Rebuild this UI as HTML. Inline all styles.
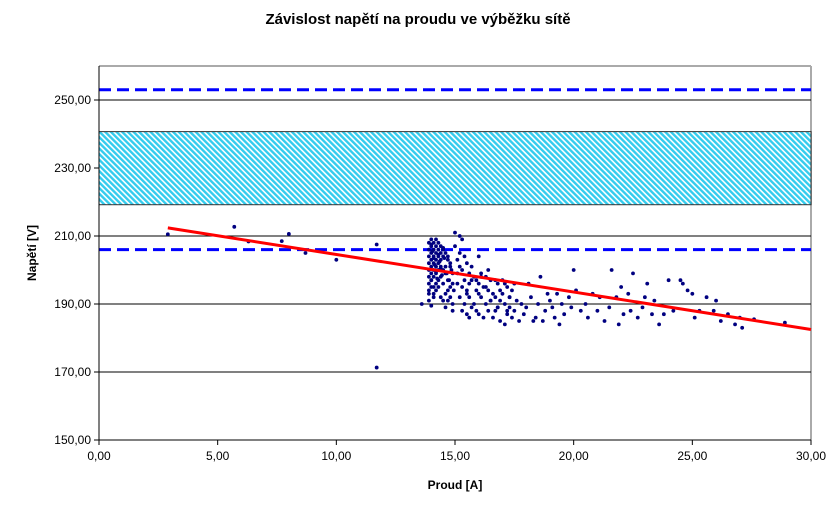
<!DOCTYPE html>
<html><head><meta charset="utf-8"><style>
body{margin:0;background:#fff;}
svg{display:block;font-family:"Liberation Sans",Arial,sans-serif;}
</style></head><body>
<svg id="chart" width="838" height="507">
<defs>
<pattern id="hatch" width="4" height="4" patternUnits="userSpaceOnUse" patternTransform="rotate(-45)">
<rect width="4" height="4" fill="#fff"/><rect width="2.4" height="4" fill="#33ccee"/>
</pattern>
</defs>
<text x="418" y="24" text-anchor="middle" font-size="15" font-weight="bold">Závislost napětí na proudu ve výběžku sítě</text>
<g id="grid"></g>
<g id="axes"></g>
<g id="pts"></g>
<text x="455" y="489" text-anchor="middle" font-size="12" font-weight="bold">Proud [A]</text>
<text transform="translate(36,253) rotate(-90)" text-anchor="middle" font-size="12" font-weight="bold">Napětí [V]</text>
</svg>
<script>
const xTicks=[0,5,10,15,20,25,30];
const xTickLabels=["0,00","5,00","10,00","15,00","20,00","25,00","30,00"];
const yTicks=[150,170,190,210,230,250];
const yTickLabels=["150,00","170,00","190,00","210,00","230,00","250,00"];
const bandLow=219.2, bandHigh=240.7;
const limitHigh=253, limitLow=206;
const trendX=[2.9,30], trendY=[212.4,182.5];
const curX=[2.9,5.7,6.3,7.7,8.0,8.7,10.0,11.7,11.7,13.6,
13.9,13.9,13.9,13.9,13.9,13.9,13.9,13.9,13.9,13.9,14.0,14.0,14.0,14.0,14.0,14.0,14.0,14.0,14.0,14.1,14.1,14.1,14.1,14.1,14.1,14.1,14.1,14.2,14.2,14.2,14.2,14.2,14.2,14.2,14.3,14.3,14.3,14.3,14.3,14.3,14.4,14.4,14.4,14.4,14.4,14.5,14.5,14.5,14.5,14.6,14.6,14.6,14.7,14.7,14.7,14.8,14.8,14.9,14.9,
14.0,14.05,14.1,14.15,14.2,14.25,14.3,14.35,14.4,14.45,14.5,14.55,14.6,14.65,14.7,14.75,14.8,14.85,14.9,14.95,14.0,14.1,14.2,14.3,14.4,14.5,14.6,14.7,14.8,14.9,
15.0,15.0,15.1,15.1,15.2,15.2,15.2,15.3,15.3,15.3,15.4,15.4,15.4,15.5,15.5,15.5,15.6,15.6,15.6,15.7,15.7,15.8,15.8,15.9,15.9,16.0,16.0,16.0,16.1,16.1,16.2,16.2,16.3,16.3,16.4,16.4,16.5,16.5,16.6,16.6,16.7,16.7,16.8,16.8,16.9,16.9,17.0,17.0,17.1,17.1,17.2,17.2,17.3,17.3,17.4,17.4,17.5,17.5,17.6,17.7,17.8,17.9,
15.1,15.3,15.5,15.7,15.9,16.1,16.3,16.5,16.7,16.9,17.1,17.3,15.2,15.6,16.0,16.4,16.8,17.2,
18.0,18.1,18.2,18.3,18.4,18.5,18.6,18.7,18.8,18.9,19.0,19.1,19.2,19.3,19.4,19.5,19.6,19.8,19.9,20.0,20.1,20.3,20.5,20.6,20.8,21.0,21.1,21.3,21.5,21.6,21.8,21.9,22.0,22.1,22.3,22.4,22.5,22.7,22.9,23.0,23.1,23.3,23.4,23.6,23.8,24.0,24.2,24.5,24.6,24.8,25.0,25.1,25.3,25.6,25.9,26.0,26.2,26.5,26.8,27.0,27.1,27.6,28.9],
volt=[210.5,212.7,208.4,208.5,210.6,205,203,207.5,171.3,190,
208,206,204,202,200,198,196,194,193,191,209,207,205,203,201,199,197,195,189.5,208,206,204,202,200,198,195,192,209,207,205,203,201,199,196,208,206,204,202,200,197,207,205,203,201,198,206,204,200,196,205,199,193,203,197,191,201,195,199,188,
207.5,205.5,203.5,201.5,199.5,197.5,204.5,202.5,200.5,198.5,206.5,203.5,201,199,204,197,202,200,196,194,197,193,194,195,192,191,189,194,192,190,
211,207,203,196,210,205,192,209,200,188,204,197,190,202,194,187,199,192,186,201,189,198,190,197,188,204,196,187,199,192,195,186,198,190,194,188,197,191,193,186,192,188,196,189,191,185,197,193,190,184,195,187,192,189,194,186,196,188,191,185,190,187,
199,195,193,197,194,198,195,191,197,194,196,192,201,196,193,200,189,188,
189,196,192,185,186,190,198,185,188,193,191,189,186,193,184,190,187,192,189,200,194,188,190,186,193,188,192,185,189,200,192,184,195,187,193,188,199,186,189,192,196,187,191,184,187,197,188,197,196,194,193,186,188,192,188,191,185,187,184,186,183,185.5,184.5];
const X0=99,X1=811,Y0=440,Y1=66,XMIN=0,XMAX=30,YMIN=150,YMAX=260;
const sx=v=>X0+(v-XMIN)/(XMAX-XMIN)*(X1-X0);
const sy=v=>Y0-(v-YMIN)/(YMAX-YMIN)*(Y0-Y1);
const NS="http://www.w3.org/2000/svg";
function mk(parent,tag,attrs){const e=document.createElementNS(NS,tag);for(const k in attrs)e.setAttribute(k,attrs[k]);document.getElementById(parent).appendChild(e);return e;}
let e;
e=mk('grid','line',{x1:X0,x2:X1,y1:Y1,y2:Y1,stroke:'#aaa','stroke-width':2});


e=mk('grid','line',{x1:X1,x2:X1,y1:Y1,y2:Y0,stroke:'#aaa','stroke-width':2});


yTicks.forEach((t,i)=>{
 if(t>YMIN){e=mk('grid','line',{x1:X0,x2:X1,y1:sy(t),y2:sy(t),stroke:'#000','stroke-width':1});
 
 }
 e=mk('axes','line',{x1:X0-5,x2:X0,y1:sy(t),y2:sy(t),stroke:'#000'});
 
 
 e=mk('axes','text',{x:X0-8,y:sy(t)+4,'text-anchor':'end','font-size':12});
 e.textContent=yTickLabels[i];
 
 
});
e=mk('grid','rect',{x:X0,y:sy(bandHigh),width:X1-X0,height:sy(bandLow)-sy(bandHigh),fill:'url(#hatch)',stroke:'#333','stroke-width':1});


[limitHigh,limitLow].forEach(v=>{
 e=mk('grid','line',{x1:X0,x2:X1,y1:sy(v),y2:sy(v),stroke:'#0000ff','stroke-width':3,'stroke-dasharray':'12,6'});
 
 
});
e=mk('axes','line',{x1:X0,x2:X0,y1:Y1,y2:Y0,stroke:'#000'});


e=mk('axes','line',{x1:X0,x2:X1,y1:Y0,y2:Y0,stroke:'#000'});


xTicks.forEach((t,i)=>{
 e=mk('axes','line',{x1:sx(t),x2:sx(t),y1:Y0,y2:Y0+5,stroke:'#000'});
 
 
 e=mk('axes','text',{x:sx(t),y:Y0+20,'text-anchor':'middle','font-size':12});
 e.textContent=xTickLabels[i];
 
 
});
curX.forEach((x,i)=>{
 e=mk('pts','circle',{cx:sx(x),cy:sy(volt[i]),r:1.9,fill:'#000080'});
 
 
});
e=mk('pts','line',{x1:sx(trendX[0]),y1:sy(trendY[0]),x2:sx(trendX[1]),y2:sy(trendY[1]),stroke:'#ff0000','stroke-width':3});


</script>
</body></html>
